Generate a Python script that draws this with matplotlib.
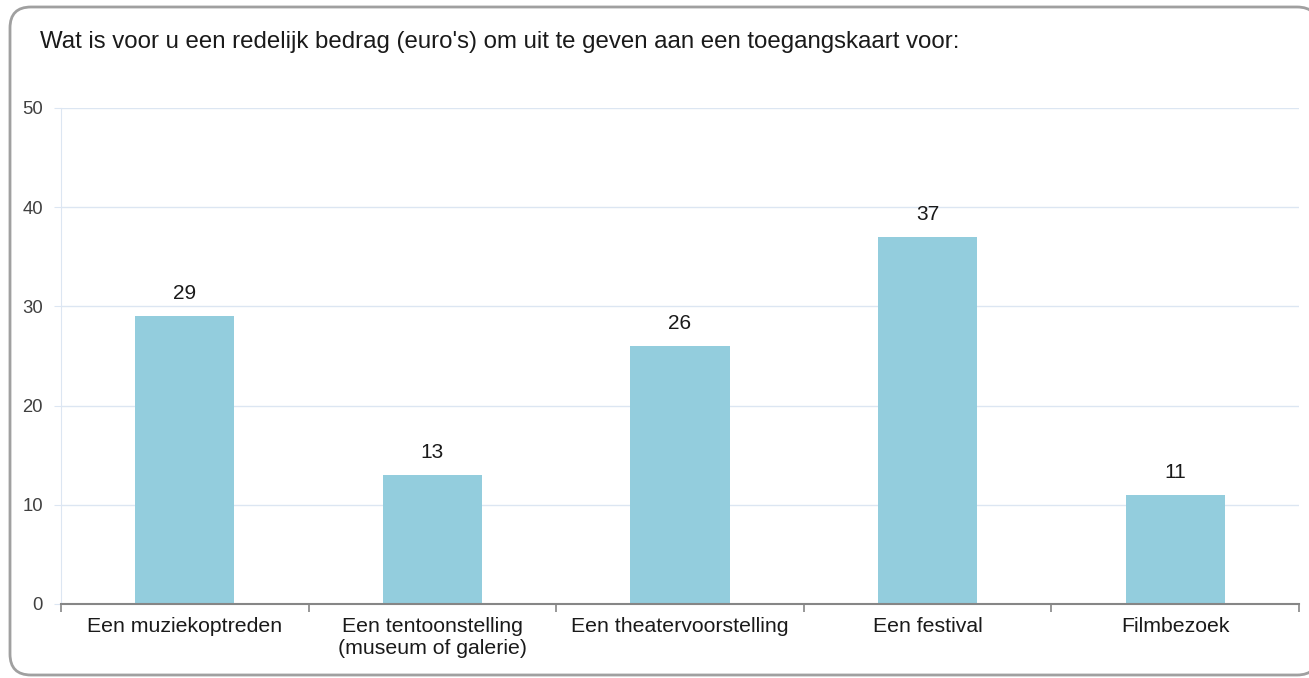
import matplotlib
matplotlib.use("Agg")
import matplotlib.pyplot as plt
from matplotlib.patches import FancyBboxPatch

plt.rcParams['font.family'] = ['Liberation Sans', 'DejaVu Sans']

categories = ["Een muziekoptreden", "Een tentoonstelling\n(museum of galerie)",
              "Een theatervoorstelling", "Een festival", "Filmbezoek"]
values = [29, 13, 26, 37, 11]
title = "Wat is voor u een redelijk bedrag (euro's) om uit te geven aan een toegangskaart voor:"

W, H = 1309, 678
fig = plt.figure(figsize=(W / 100, H / 100), dpi=100)

# rounded frame round the whole chart (right side runs off the picture)
box = FancyBboxPatch((10 / W, 3 / H), (1318 - 10) / W, (675 - 7) / H,
                     boxstyle="round,pad=0,rounding_size=0.016",
                     transform=fig.transFigure, fc="white", ec="#a0a0a0", lw=2,
                     mutation_aspect=W / H, zorder=-10)
fig.patches.append(box)
fig.text(40 / W, 1 - 48 / H, title, fontsize=17.3, va="baseline", ha="left", color="#1a1a1a")

ax = fig.add_axes([61 / W, (H - 604) / H, (1299 - 61) / W, (604 - 108) / H])
ax.set_facecolor("none")
x = range(len(values))
ax.bar(x, values, width=0.4, color="#93cddd", zorder=2)
for i, v in zip(x, values):
    ax.text(i, v + 1.7, str(v), ha="center", va="baseline", fontsize=15, color="#1a1a1a")

ax.set_xlim(-0.5, len(values) - 0.5)
ax.set_ylim(0, 50)
ax.set_yticks(range(0, 51, 10))
ax.yaxis.grid(True, color="#dce6f2", lw=1, zorder=0)
ax.tick_params(axis="y", length=5, color="#dce6f2", labelsize=13.3, labelcolor="#404040", pad=8)

ax.set_xticks(x)
ax.set_xticklabels(categories, fontsize=15.3, color="#1a1a1a", linespacing=1.2)
ax.set_xticks([i - 0.5 for i in range(len(values) + 1)], minor=True)
ax.tick_params(axis="x", which="major", length=0, pad=9)
ax.tick_params(axis="x", which="minor", length=6, color="#868686", width=1.2)

for s in ["top", "right"]:
    ax.spines[s].set_visible(False)
ax.spines["left"].set_color("#dce6f2")
ax.spines["bottom"].set_color("#868686")
ax.spines["bottom"].set_linewidth(1.5)

fig.savefig("out.png", dpi=100)
